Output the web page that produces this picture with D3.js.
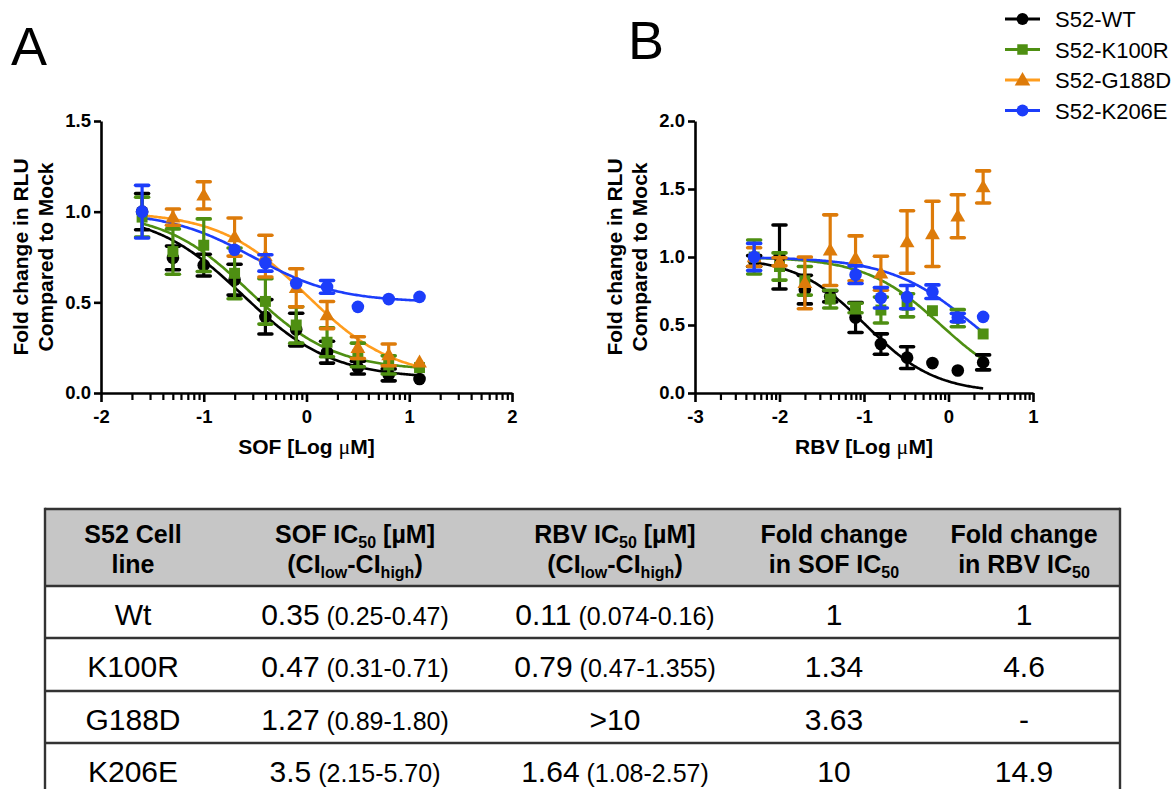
<!DOCTYPE html>
<html>
<head>
<meta charset="utf-8">
<script src="https://cdn.jsdelivr.net/npm/d3@7"></script>
<style>
  body { margin: 0; background: #fff; }
  svg { display: block; }
  text { font-family: Arial, "Liberation Sans", Helvetica, sans-serif; fill: #000; }
</style>
</head>
<body>
<svg id="fig" width="1174" height="789"></svg>
<script>
// ---- series ----
const seriesNames   = ["S52-WT", "S52-K100R", "S52-G188D", "S52-K206E"];
const markerColors  = ["#000000", "#4e8f12", "#dd7b0a", "#1c3dfa"];
const curveColors   = ["#000000", "#4e8f12", "#ff9d1e", "#1c3dfa"];
const markerShapes  = ["circle", "square", "triangle", "circle"];

// ---- panel A: sofosbuvir dose response (log10 µM) ----
const sofLogDose = [-1.6, -1.3, -1.0, -0.7, -0.4, -0.1, 0.2, 0.5, 0.8, 1.1];
const sofWT      = [1.0, 0.745, 0.705, 0.625, 0.42, 0.35, 0.225, 0.14, 0.10, 0.077];
const sofWTErr   = [0.1, 0.065, 0.06, 0.085, 0.095, 0.09, 0.06, 0.035, 0.033, 0];
const sofK100R   = [0.97, 0.78, 0.815, 0.66, 0.505, 0.375, 0.28, 0.21, 0.155, 0.14];
const sofK100RErr= [0.11, 0.125, 0.145, 0.14, 0.125, 0.1, 0.08, 0.065, 0.05, 0];
const sofG188D   = [null, 0.97, 1.09, 0.86, 0.755, 0.58, 0.43, 0.25, 0.21, 0.17];
const sofG188DErr= [0, 0.045, 0.075, 0.105, 0.115, 0.105, 0.075, 0.06, 0.06, 0];
const sofK206E   = [1.0, null, null, 0.79, 0.717, 0.605, 0.585, 0.475, 0.518, 0.53];
const sofK206EErr= [0.145, 0, 0, 0, 0.045, 0, 0.035, 0, 0, 0];
// fitted 4-parameter logistic: [top, bottom, logIC50, hill]
const sofFits = [[1.0, 0.08, -0.62, 1.0], [1.0, 0.125, -0.56, 1.05], [1.0, 0.08, 0.0, 1.02], [1.0, 0.5, -0.52, 1.05]];

// ---- panel B: ribavirin dose response (log10 µM) ----
const rbvLogDose = [-2.3, -2.0, -1.7, -1.4, -1.1, -0.8, -0.49, -0.19, 0.11, 0.41];
const rbvWT      = [0.97, 1.0, 0.76, 0.71, 0.555, 0.36, 0.26, 0.22, 0.165, 0.225];
const rbvWTErr   = [0.04, 0.235, 0.105, 0.04, 0.11, 0.075, 0.08, 0, 0, 0.055];
const rbvK100R   = [1.0, 0.93, 0.825, 0.69, 0.625, 0.61, 0.645, 0.605, 0.55, 0.434];
const rbvK100RErr= [0.125, 0.1, 0.105, 0.065, 0.035, 0.095, 0.085, 0, 0.063, 0];
const rbvG188D   = [1.0, 0.965, 0.81, 1.05, 0.99, 0.88, 1.11, 1.17, 1.3, 1.515];
const rbvG188DErr= [0.068, 0.03, 0.19, 0.26, 0.165, 0.125, 0.23, 0.24, 0.158, 0.118];
const rbvK206E   = [1.0, null, null, null, 0.87, 0.7, 0.705, 0.745, 0.555, 0.56];
const rbvK206EErr= [0.1, 0, 0, 0, 0.065, 0.075, 0.085, 0.05, 0.03, 0];
const rbvFits = [[1.0, 0.0, -0.98, 1.05], [1.0, 0.0, -0.09, 0.97], null, [1.0, 0.0, 0.3, 0.87]];

// ---- axis ticks ----
const sofXTicks = [-2, -1, 0, 1, 2];
const sofYTicks = [0, 0.5, 1.0, 1.5];
const rbvXTicks = [-3, -2, -1, 0, 1];
const rbvYTicks = [0, 0.5, 1.0, 1.5, 2.0];

// ---- IC50 table ----
const tableCellLines = ["Wt", "K100R", "G188D", "K206E"];
const tableSofIC50   = ["0.35", "0.47", "1.27", "3.5"];
const tableSofCI     = ["(0.25-0.47)", "(0.31-0.71)", "(0.89-1.80)", "(2.15-5.70)"];
const tableRbvIC50   = ["0.11", "0.79", ">10", "1.64"];
const tableRbvCI     = ["(0.074-0.16)", "(0.47-1.355)", "", "(1.08-2.57)"];
const tableFoldSof   = ["1", "1.34", "3.63", "10"];
const tableFoldRbv   = ["1", "4.6", "-", "14.9"];

const svg = d3.select("#fig");

function logistic(p, x) {
  const [top, bottom, c, h] = p;
  return bottom + (top - bottom) / (1 + Math.pow(10, (x - c) * h));
}

function drawPanel(cfg) {
  const g = svg.append("g");
  const x = d3.scaleLinear().domain(cfg.xDomain).range(cfg.xRange);
  const y = d3.scaleLinear().domain(cfg.yDomain).range([393, 121]);

  // minor log ticks
  const minors = [];
  for (let d = cfg.xDomain[0]; d < cfg.xDomain[1]; d++) {
    for (let k = 2; k <= 9; k++) minors.push(d + Math.log10(k));
  }
  const minorAxis = g.append("g").attr("transform", "translate(0,393)")
    .call(d3.axisBottom(x).tickValues(minors).tickSize(7).tickFormat("").tickSizeOuter(0));
  minorAxis.select(".domain").remove();
  minorAxis.selectAll(".tick line").attr("stroke-width", 2.2);

  const xAxis = g.append("g").attr("transform", "translate(0,393)")
    .call(d3.axisBottom(x).tickValues(cfg.xTicks).tickSize(9).tickPadding(8)
      .tickSizeOuter(0).tickFormat(d3.format("d")));
  xAxis.select(".domain").attr("stroke-width", 2.6);
  xAxis.selectAll(".tick line").attr("stroke-width", 2.6);
  xAxis.selectAll(".tick text").attr("font-size", 18.5).attr("font-weight", "bold")
    .attr("font-family", "Arial, 'Liberation Sans', sans-serif")
    .text(d => d < 0 ? "-" + Math.abs(d) : d);

  const yAxis = g.append("g").attr("transform", `translate(${cfg.xRange[0]},0)`)
    .call(d3.axisLeft(y).tickValues(cfg.yTicks).tickSize(7).tickPadding(3)
      .tickSizeOuter(0).tickFormat(d3.format(".1f")));
  yAxis.select(".domain").attr("stroke-width", 2.6);
  yAxis.selectAll(".tick line").attr("stroke-width", 2.6);
  yAxis.selectAll(".tick text").attr("font-size", 18.5).attr("font-weight", "bold")
    .attr("font-family", "Arial, 'Liberation Sans', sans-serif");

  // axis titles
  const xt = g.append("text").attr("x", (cfg.xRange[0] + cfg.xRange[1]) / 2).attr("y", 454)
    .attr("text-anchor", "middle").attr("font-size", 21).attr("font-weight", "bold");
  xt.append("tspan").text(cfg.drug + " [Log ");
  xt.append("tspan").attr("font-family", "'Liberation Serif', 'Times New Roman', serif")
    .attr("font-weight", "normal").attr("font-size", 22).text("\u03bc");
  xt.append("tspan").text("M]");

  const cy = (393 + 121) / 2;
  ["Fold change in RLU", "Compared to Mock"].forEach((t, i) => {
    const bx = cfg.xRange[0] - 73 + i * 25;
    g.append("text").attr("transform", `translate(${bx},${cy}) rotate(-90)`)
      .attr("text-anchor", "middle").attr("font-size", 21).attr("font-weight", "bold").text(t);
  });

  // panel letter
  g.append("text").attr("x", cfg.letterX).attr("y", cfg.letterY)
    .attr("font-size", 54).text(cfg.letter);

  // fitted curves
  const line = d3.line().x(d => x(d[0])).y(d => y(d[1]));
  cfg.fits.forEach((p, si) => {
    if (!p) return;
    const lo = d3.min(cfg.dose), hi = d3.max(cfg.dose);
    const pts = d3.range(0, 201).map(i => {
      const xv = lo + (hi - lo) * i / 200;
      return [xv, logistic(p, xv)];
    });
    g.append("path").attr("d", line(pts)).attr("fill", "none")
      .attr("stroke", curveColors[si]).attr("stroke-width", 2.6);
  });

  // error bars and markers, series in order (later series on top)
  cfg.means.forEach((vals, si) => {
    const errs = cfg.errs[si];
    const col = markerColors[si];
    const sg = g.append("g");
    vals.forEach((v, i) => {
      if (v == null) return;
      const e = errs[i];
      const cx = x(cfg.dose[i]);
      if (e > 0) {
        sg.append("line").attr("x1", cx).attr("x2", cx).attr("y1", y(v + e)).attr("y2", y(v - e))
          .attr("stroke", col).attr("stroke-width", 3.2);
        [v + e, v - e].forEach(ev => {
          sg.append("line").attr("x1", cx - 6.5).attr("x2", cx + 6.5).attr("y1", y(ev)).attr("y2", y(ev))
            .attr("stroke", col).attr("stroke-width", 3.6).attr("stroke-linecap", "round");
        });
      }
      const shape = markerShapes[si];
      const sym = shape === "circle" ? d3.symbolCircle : shape === "square" ? d3.symbolSquare : d3.symbolTriangle;
      const size = shape === "circle" ? 125 : shape === "square" ? 120 : 95;
      sg.append("path").attr("d", d3.symbol(sym, size)())
        .attr("transform", `translate(${cx},${y(v) + (shape === "triangle" ? 1 : 0)})`)
        .attr("fill", col);
    });
  });
}

drawPanel({
  letter: "A", letterX: 11, letterY: 65, drug: "SOF",
  xDomain: [-2, 2], xRange: [101, 512], yDomain: [0, 1.5],
  xTicks: sofXTicks, yTicks: sofYTicks, dose: sofLogDose,
  means: [sofWT, sofK100R, sofG188D, sofK206E],
  errs: [sofWTErr, sofK100RErr, sofG188DErr, sofK206EErr],
  fits: sofFits
});

drawPanel({
  letter: "B", letterX: 628, letterY: 59, drug: "RBV",
  xDomain: [-3, 1], xRange: [695, 1033], yDomain: [0, 2.0],
  xTicks: rbvXTicks, yTicks: rbvYTicks, dose: rbvLogDose,
  means: [rbvWT, rbvK100R, rbvG188D, rbvK206E],
  errs: [rbvWTErr, rbvK100RErr, rbvG188DErr, rbvK206EErr],
  fits: rbvFits
});

// ---- legend ----
const legY = [19, 49.5, 80, 110.5];
const leg = svg.append("g");
seriesNames.forEach((n, i) => {
  const yy = legY[i];
  leg.append("line").attr("x1", 1005).attr("x2", 1040).attr("y1", yy).attr("y2", yy)
    .attr("stroke", curveColors[i]).attr("stroke-width", 2.8);
  const shape = markerShapes[i];
  const sym = shape === "circle" ? d3.symbolCircle : shape === "square" ? d3.symbolSquare : d3.symbolTriangle;
  const size = shape === "circle" ? 110 : shape === "square" ? 110 : 105;
  leg.append("path").attr("d", d3.symbol(sym, size)())
    .attr("transform", `translate(1022.5,${yy + (shape === "triangle" ? 1 : 0)})`)
    .attr("fill", markerColors[i]);
  leg.append("text").attr("x", 1055).attr("y", yy + 8).attr("font-size", 22).text(n);
});

// ---- table ----
const tbl = svg.append("g");
const tLeft = 45, tRight = 1120, tTop = 509, tHead = 586;
const rowTops = [586, 638, 691, 743];
const rowH = 52;
const colX = [133, 355, 615, 834, 1024];

tbl.append("rect").attr("x", tLeft).attr("y", tTop).attr("width", tRight - tLeft).attr("height", tHead - tTop)
  .attr("fill", "#c6c6c6");

const headers = [
  [[["S52 Cell", 0]], [["line", 0]]],
  [[["SOF IC", 0], ["50", 1], [" [\u00b5M]", 0]], [["(CI", 0], ["low", 1], ["-CI", 0], ["high", 1], [")", 0]]],
  [[["RBV IC", 0], ["50", 1], [" [\u00b5M]", 0]], [["(CI", 0], ["low", 1], ["-CI", 0], ["high", 1], [")", 0]]],
  [[["Fold change", 0]], [["in SOF IC", 0], ["50", 1]]],
  [[["Fold change", 0]], [["in RBV IC", 0], ["50", 1]]]
];
const headBase = [543, 573];
headers.forEach((lines, ci) => {
  lines.forEach((segs, li) => {
    const t = tbl.append("text").attr("x", colX[ci]).attr("y", headBase[li])
      .attr("text-anchor", "middle").attr("font-size", 25).attr("font-weight", "bold");
    let shifted = false;
    segs.forEach(([s, sub]) => {
      const sp = t.append("tspan").text(s);
      if (sub && !shifted) { sp.attr("dy", 5).attr("font-size", 16); shifted = true; }
      else if (sub) { sp.attr("font-size", 16); }
      else if (shifted) { sp.attr("dy", -5); shifted = false; }
    });
  });
});

function cellText(xc, yb, main, paren) {
  const t = tbl.append("text").attr("x", xc).attr("y", yb).attr("text-anchor", "middle").attr("font-size", 30);
  t.append("tspan").text(main);
  if (paren) t.append("tspan").attr("font-size", 25).text(" " + paren);
}

tableCellLines.forEach((c, r) => {
  const yb = rowTops[r] + 38.5;
  cellText(colX[0], yb, c);
  cellText(colX[1], yb, tableSofIC50[r], tableSofCI[r]);
  cellText(colX[2], yb, tableRbvIC50[r], tableRbvCI[r]);
  cellText(colX[3], yb, tableFoldSof[r]);
  cellText(colX[4], yb, tableFoldRbv[r]);
});

const lineCol = "#333";
[tTop, tHead, 638, 691, 743].forEach(yy => {
  tbl.append("line").attr("x1", tLeft).attr("x2", tRight).attr("y1", yy).attr("y2", yy)
    .attr("stroke", lineCol).attr("stroke-width", 2.4);
});
[tLeft, tRight].forEach(xx => {
  tbl.append("line").attr("x1", xx).attr("x2", xx).attr("y1", tTop - 1.2).attr("y2", 789 + rowH)
    .attr("stroke", lineCol).attr("stroke-width", 2.4);
});
</script>
</body>
</html>
